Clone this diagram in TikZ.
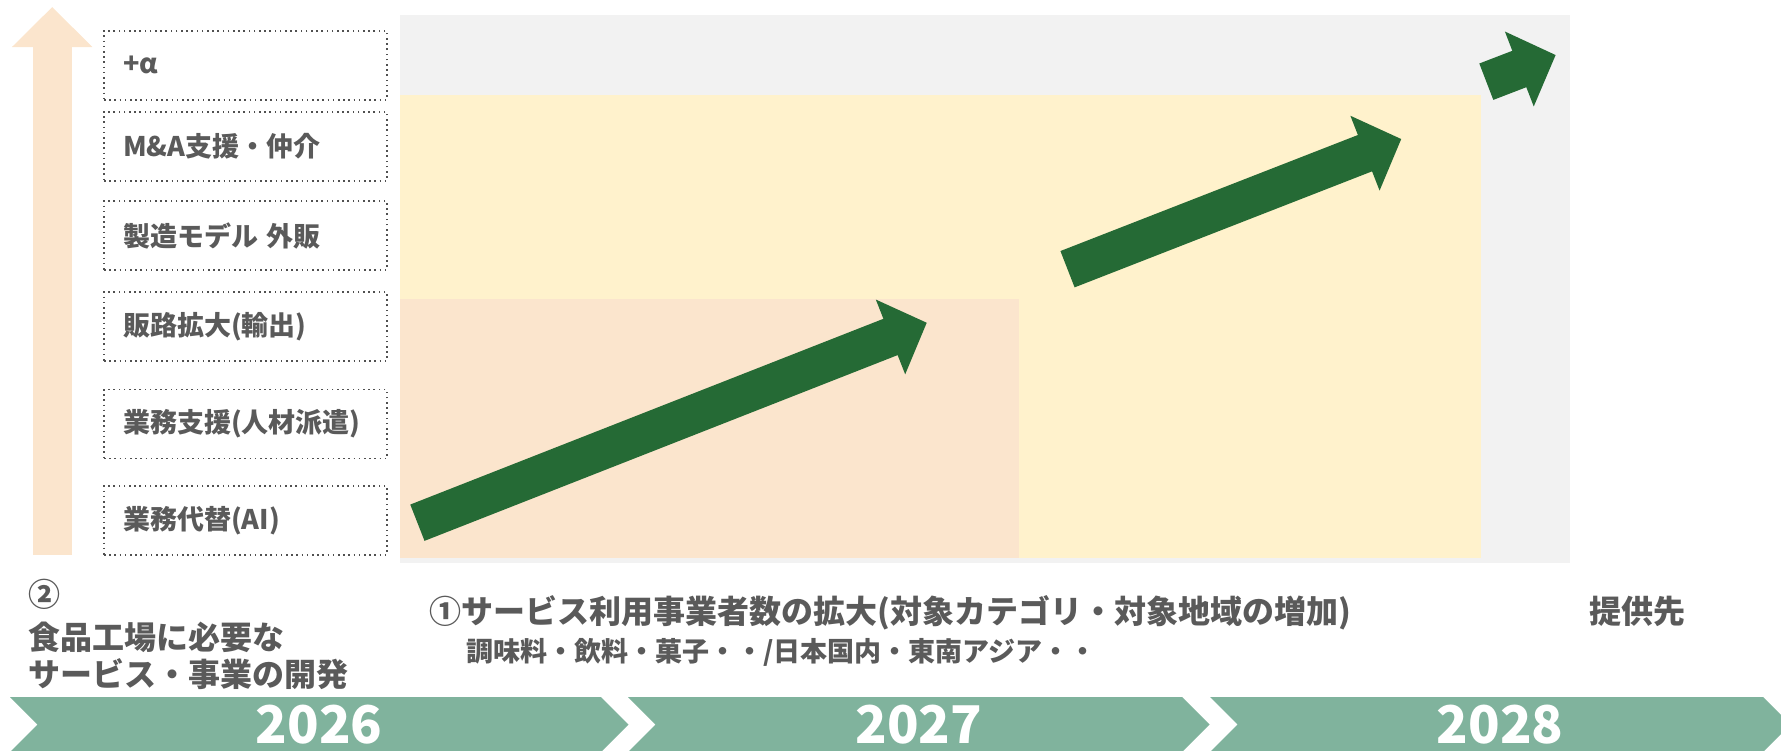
\documentclass[tikz,border=0pt]{standalone}
\usepackage{fontspec}
\setmainfont{Noto Sans CJK JP}
\usetikzlibrary{positioning,arrows.meta}

\definecolor{txtgray}{RGB}{90,90,90}
\definecolor{dotgray}{RGB}{80,80,80}
\definecolor{bggray}{RGB}{242,242,242}
\definecolor{bgyel}{RGB}{255,242,204}
\definecolor{bgpch}{RGB}{251,229,205}
\definecolor{arrgreen}{RGB}{37,106,53}
\definecolor{bandgreen}{RGB}{128,179,157}

\begin{document}
\begin{tikzpicture}[
  x=0.5pt, y=-0.5pt,
  bx/.style={draw=dotgray, dash pattern=on 0.8pt off 1.8pt, line width=0.8pt,
             minimum width=141.5pt, minimum height=34.5pt, inner xsep=9.5pt,
             inner ysep=0pt, text width=122.5pt, align=left, text=txtgray,
             font=\fontsize{13.5}{16}\selectfont\bfseries},
  lbl/.style={text=txtgray, inner sep=0pt, font=\fontsize{16}{18.5}\selectfont\bfseries},
  sub/.style={text=txtgray, inner sep=0pt, font=\fontsize{13.5}{16}\selectfont\bfseries},
  yr/.style={text=white, inner sep=0pt, font=\fontsize{26}{30}\selectfont\bfseries},
  grw/.style={draw=arrgreen, line width=19.5pt, -{Triangle[length=19.5pt, width=39pt]}},
  upw/.style={draw=bgpch, line width=19.5pt, -{Triangle[length=20pt, width=39pt]}}
]
\useasboundingbox (0,0) rectangle (1781,750);

% backgrounds
\fill[bggray] (400,15) rectangle (1570,563);
\fill[bgyel] (400,95) rectangle (1481,558);
\fill[bgpch] (400,299) rectangle (1019,558);

% axis of services
\coordinate (ub) at (52.2,555);
\coordinate (ut) at (52.2,7);
\draw[upw] (ub) -- (ut);

\node[bx] (s6) at (245.5,65.3)  {+α};
\node[bx] (s5) at (245.5,146.2) {M\&A支援・仲介};
\node[bx] (s4) at (245.5,235.5) {製造モデル 外販};
\node[bx] (s3) at (245.5,326.5) {販路拡大(輸出)};
\node[bx] (s2) at (245.5,424)   {業務支援(人材派遣)};
\node[bx] (s1) at (245.5,520.4) {業務代替(AI)};

% growth arrows
\coordinate (a1s) at (417.4,522.7);  \coordinate (a1e) at (926.8,322.7);
\coordinate (a2s) at (1067.5,269.2); \coordinate (a2e) at (1401.3,139);
\coordinate (a3s) at (1486.3,81.7);  \coordinate (a3e) at (1555.7,55);
\foreach \a/\b in {a1s/a1e, a2s/a2e, a3s/a3e} \draw[grw] (\a) -- (\b);

% captions
\node[lbl, align=left, anchor=base west] (dev) at (28,686)
  {②\\[3pt]食品工場に必要な\\サービス・事業の開発};
\node[lbl, anchor=west] (exp) at (429,613)
  {①サービス利用事業者数の拡大(対象カテゴリ・対象地域の増加)};
\node[sub, anchor=west] (cat) at (466,652)
  {調味料・飲料・菓子・・/日本国内・東南アジア・・};
\node[lbl, anchor=west] (dst) at (1589,611) {提供先};

% years
\foreach \xa/\xb/\yy in {10/601/2026, 628/1182/2027, 1210/1763/2028} {
  \fill[bandgreen] (\xa,697) -- (\xb,697) -- ++(27.5,27.5) -- (\xb,752)
    -- (\xa,752) -- ++(27.5,-27.5) -- cycle;
  \node[yr] (y\yy) at ({(\xa+\xb)/2+13.75},724.5) {\yy};
}
\end{tikzpicture}
\end{document}
